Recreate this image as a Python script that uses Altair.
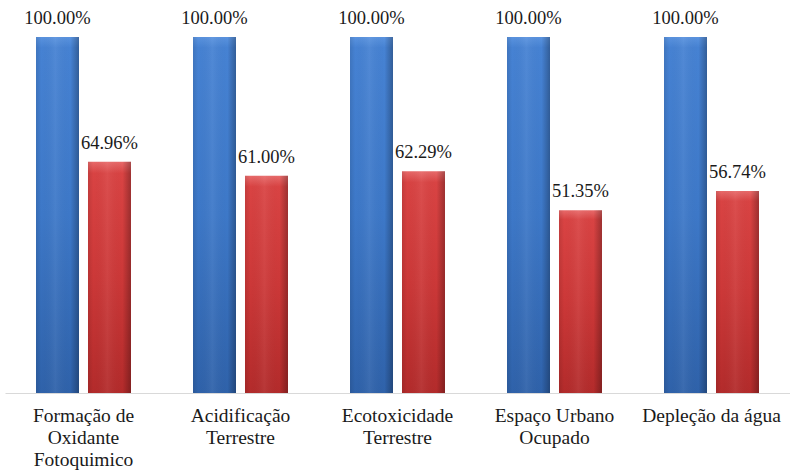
import altair as alt
import pandas as pd

categories = ["Formação de|Oxidante|Fotoquimico", "Acidificação|Terrestre",
              "Ecotoxicidade|Terrestre", "Espaço Urbano|Ocupado", "Depleção da água"]
series_a = [100.00, 100.00, 100.00, 100.00, 100.00]
series_b = [64.96, 61.00, 62.29, 51.35, 56.74]
series_names = ["A", "B"]

rows = []
for c, a, b in zip(categories, series_a, series_b):
    rows.append({"cat": c, "series": "A", "value": a})
    rows.append({"cat": c, "series": "B", "value": b})
df = pd.DataFrame(rows)

FONT = "Liberation Serif"

x = alt.X("cat:N", sort=categories,
          scale=alt.Scale(paddingInner=0.395, paddingOuter=0.1975),
          axis=alt.Axis(title=None, labelAngle=0, ticks=False, domainColor="#D9D9D9",
                        domainWidth=1, labelFont=FONT, labelFontSize=19.5, labelColor="#1a1a1a",
                        labelPadding=13, labelLineHeight=22, labelBaseline="top",
                        labelExpr="split(datum.value, '|')"))
xo = alt.XOffset("series:N", scale=alt.Scale(domain=series_names, paddingInner=0.173))
y = alt.Y("value:Q", scale=alt.Scale(domain=[0, 100], nice=False, zero=True), axis=None)

blue = alt.Gradient(gradient="linear", x1=0, x2=0, y1=0, y2=1,
                    stops=[alt.GradientStop(color="#5A93DF", offset=0),
                           alt.GradientStop(color="#4682D3", offset=0.03),
                           alt.GradientStop(color="#3D78C8", offset=0.5),
                           alt.GradientStop(color="#2F62AA", offset=1)])
red = alt.Gradient(gradient="linear", x1=0, x2=0, y1=0, y2=1,
                   stops=[alt.GradientStop(color="#E86A6A", offset=0),
                          alt.GradientStop(color="#D94343", offset=0.05),
                          alt.GradientStop(color="#CC3838", offset=0.5),
                          alt.GradientStop(color="#B32B2B", offset=1)])
shade = alt.Gradient(gradient="linear", x1=0, x2=1, y1=0, y2=0,
                     stops=[alt.GradientStop(color="rgba(0,0,0,0.10)", offset=0),
                            alt.GradientStop(color="rgba(0,0,0,0)", offset=0.12),
                            alt.GradientStop(color="rgba(255,255,255,0.06)", offset=0.45),
                            alt.GradientStop(color="rgba(0,0,0,0)", offset=0.8),
                            alt.GradientStop(color="rgba(0,0,0,0.28)", offset=1)])

base = alt.Chart(df)

bars_a = base.transform_filter(alt.datum.series == "A").mark_bar(fill=blue).encode(x=x, xOffset=xo, y=y)
bars_b = base.transform_filter(alt.datum.series == "B").mark_bar(fill=red).encode(x=x, xOffset=xo, y=y)
overlay = base.mark_bar(fill=shade).encode(x=x, xOffset=xo, y=y)

labels = base.transform_calculate(
    lbl="format(datum.value, '.2f') + '%'"
).mark_text(font=FONT, fontSize=18.5, baseline="bottom", dy=-9, color="#1a1a1a").encode(
    x=x, xOffset=xo, y=y, text="lbl:N")

chart = alt.layer(bars_a, bars_b, overlay, labels).properties(
    width=785, height=356,
    background="white",
    autosize=alt.AutoSizeParams(type="none"),
    padding={"left": 5, "top": 37, "right": 0, "bottom": 80},
).configure_view(strokeWidth=0)

chart.save("out.html", embed_options={"renderer": "svg", "actions": False})
